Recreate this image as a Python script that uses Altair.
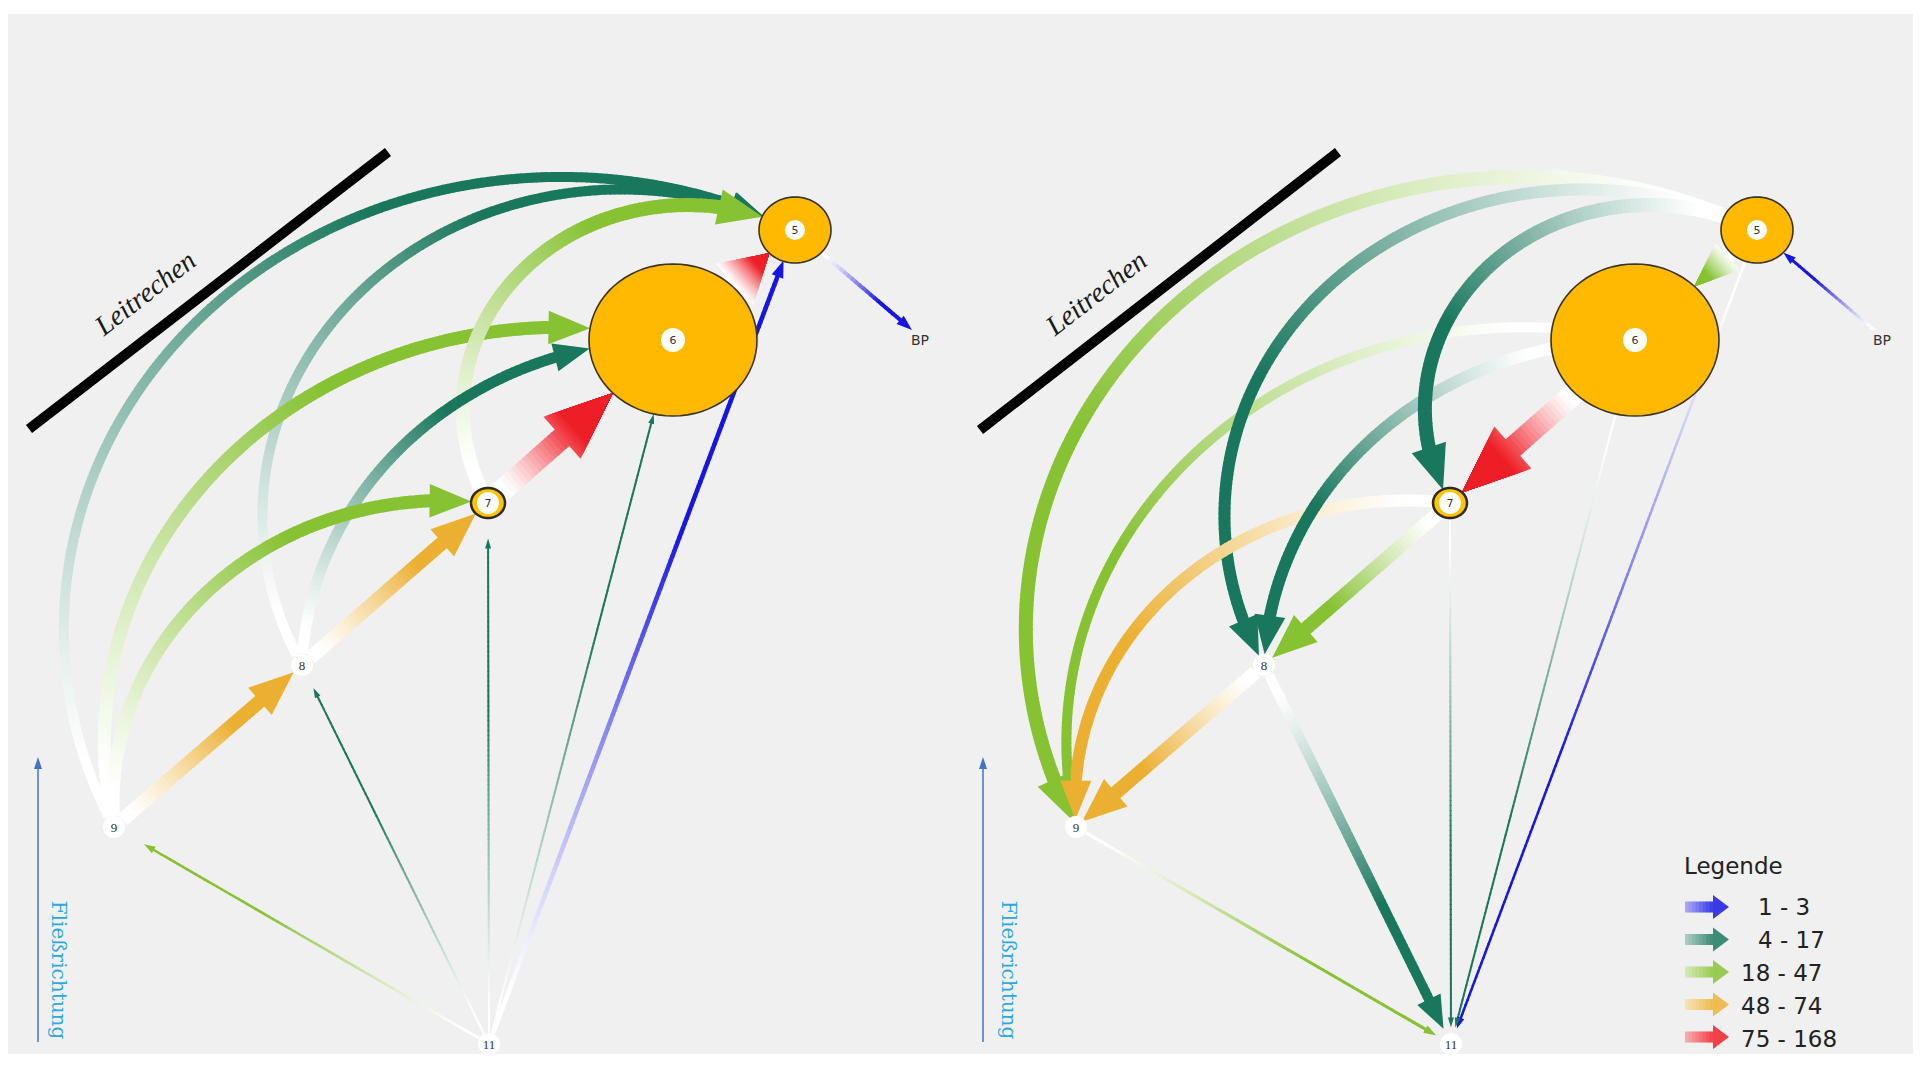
import math
import bisect
import altair as alt
import pandas as pd

# ------------------------------------------------------------------ data
NODE_IDS = ["5", "6", "7", "8", "9", "11", "BP"]
CLASS_LABELS = ["1 - 3", "4 - 17", "18 - 47", "48 - 74", "75 - 168"]
CLASS_COLORS = ["#1616e4", "#19775d", "#86c232", "#ebb031", "#ee1e26"]

# left panel (flows towards the rake)
LEFT_SRC = ["11", "11", "11", "11", "11", "9", "8", "9", "7", "8", "9", "9", "8", "7", "6", "5"]
LEFT_DST = ["9", "8", "7", "6", "5", "5", "5", "6", "5", "6", "7", "8", "7", "6", "5", "BP"]
LEFT_CLASS = [2, 1, 1, 1, 0, 1, 1, 2, 2, 1, 2, 3, 3, 4, 4, 0]

# right panel (flows away from the rake)
RIGHT_SRC = ["BP", "5", "6", "7", "9", "8", "5", "6", "5", "7", "6", "5", "7", "8", "6", "5"]
RIGHT_DST = ["5", "11", "11", "11", "11", "11", "9", "9", "8", "9", "8", "7", "8", "9", "7", "6"]
RIGHT_CLASS = [0, 0, 1, 1, 2, 1, 2, 2, 1, 3, 1, 1, 2, 3, 4, 2]

# ------------------------------------------------------------------ styles / layout (page pixels)
LEFT_WIDTH = [2.5, 2, 2, 2, 4.5, 10, 10, 13, 14, 11, 13, 14, 14, 22, 22, 4]
RIGHT_WIDTH = [3, 2.5, 2, 2, 3, 10, 14, 10, 12, 12, 12, 14, 14, 14, 22, 14]

NODE_POS = {"5": (795, 230), "6": (673, 340), "7": (488, 503), "8": (302, 665),
            "9": (114, 827), "11": (489, 1044), "BP": (912, 330)}
NODE_RAD = {"5": (36, 33), "6": (84, 76), "7": (17, 15), "8": (11, 11),
            "9": (11, 11), "11": (11, 11), "BP": (0, 0)}
PANEL_SHIFT = {"left": 0, "right": 962}
ARC_BEND = {frozenset(("9", "5")): 72, frozenset(("8", "5")): 73, frozenset(("9", "6")): 58,
            frozenset(("7", "5")): 73, frozenset(("8", "6")): 44, frozenset(("9", "7")): 51}
DEFAULT_GAP = {"8": 0, "9": -3, "11": 6}
TIP_GAP = {("left", "11", "9"): 24, ("left", "11", "8"): 15, ("left", "11", "7"): 21}
SX = 1.1  # horizontal stretch of the original drawing

W_CH, H_CH = 1905, 1046
XS = alt.Scale(domain=[8, 8 + W_CH], range=[0, W_CH], nice=False, zero=False)
YS = alt.Scale(domain=[8, 8 + H_CH], range=[0, H_CH], nice=False, zero=False)


def mix(hexcol, f):
    r, g, b = (int(hexcol[i:i + 2], 16) for i in (1, 3, 5))
    return "#%02x%02x%02x" % tuple(int(round(255 + (c - 255) * f)) for c in (r, g, b))


def fade(u):
    v = max(0.0, min(1.0, (u - 0.05) / 0.6))
    return v ** 1.2


def path_points(p, q, bend, n=1200):
    if not bend:
        return [(p[0] + (q[0] - p[0]) * i / n, p[1] + (q[1] - p[1]) * i / n) for i in range(n + 1)]
    a, b, flip = p, q, False
    if a[1] < b[1]:
        a, b, flip = q, p, True
    ax, ay = a[0] / SX, a[1]
    bx, by = b[0] / SX, b[1]
    dx, dy = bx - ax, by - ay
    L = math.hypot(dx, dy)
    ux, uy = dx / L, dy / L
    nx, ny = uy, -ux
    al = math.radians(bend)
    R = (L / 2) / math.sin(al)
    d = R * math.cos(al)
    mx, my = (ax + bx) / 2, (ay + by) / 2
    cx, cy = mx - nx * d, my - ny * d
    a0 = math.atan2(ay - cy, ax - cx)
    a1 = math.atan2(by - cy, bx - cx)
    da = (a1 - a0 + math.pi) % (2 * math.pi) - math.pi
    pts = [((cx + R * math.cos(a0 + da * i / n)) * SX, cy + R * math.sin(a0 + da * i / n))
           for i in range(n + 1)]
    if flip:
        pts.reverse()
    return pts


def inside(pt, c, r, extra):
    rx, ry = r[0] + extra, r[1] + extra
    if r[0] <= 0 or rx <= 0 or ry <= 0:
        return False
    return ((pt[0] - c[0]) / rx) ** 2 + ((pt[1] - c[1]) / ry) ** 2 < 1


def at(sub, cum, s):
    s = max(0.0, min(cum[-1], s))
    k = bisect.bisect_left(cum, s)
    if k <= 0:
        return sub[0]
    k = min(k, len(cum) - 1)
    s0, s1 = cum[k - 1], cum[k]
    t = 0 if s1 == s0 else (s - s0) / (s1 - s0)
    return (sub[k - 1][0] + (sub[k][0] - sub[k - 1][0]) * t,
            sub[k - 1][1] + (sub[k][1] - sub[k - 1][1]) * t)


def tri_path(aspect):
    return "M0,-1L%.3f,1L-%.3f,1Z" % (aspect, aspect)


shaft_rows, head_rows = [], []


def build_edge(panel, s, t, cls, w):
    sh = PANEL_SHIFT[panel]
    P = (NODE_POS[s][0] + sh, NODE_POS[s][1])
    Q = (NODE_POS[t][0] + sh, NODE_POS[t][1])
    bend = ARC_BEND.get(frozenset((s, t)), 0)
    pts = path_points(P, Q, bend)
    i0 = 0
    while i0 < len(pts) - 2 and inside(pts[i0], P, NODE_RAD[s], 0):
        i0 += 1
    gap = TIP_GAP.get((panel, s, t), DEFAULT_GAP.get(t, 0))
    i1 = i0 + 1
    while i1 < len(pts) - 1 and not inside(pts[i1], Q, NODE_RAD[t], gap):
        i1 += 1
    sub = pts[i0:i1 + 1]
    cum = [0.0]
    for k in range(1, len(sub)):
        cum.append(cum[-1] + math.hypot(sub[k][0] - sub[k - 1][0], sub[k][1] - sub[k - 1][1]))
    S = cum[-1]
    col = CLASS_COLORS[cls]
    Lh = min(2.9 * w + 4, 0.95 * S)
    Wh = 2.5 * w + 1
    s_end = S - Lh + 1
    m = max(2, int(math.ceil(s_end / 5)))
    for k in range(m):
        sa, sb = s_end * k / m, s_end * (k + 1) / m
        pa, pb = at(sub, cum, sa - 0.5), at(sub, cum, sb + 0.5)
        shaft_rows.append(dict(x=pa[0], y=pa[1], x2=pb[0], y2=pb[1], w=w,
                               col=mix(col, fade((sa + sb) / 2 / S))))
    tip = sub[-1]
    base = at(sub, cum, S - Lh)
    dv = (tip[0] - base[0], tip[1] - base[1])
    dl = math.hypot(*dv)
    dirv = (dv[0] / dl, dv[1] / dl)
    fb = fade((S - Lh) / S)
    K = 1 if fb > 0.995 else 24
    ang = math.degrees(math.atan2(dirv[0], -dirv[1])) % 360
    shp = tri_path(Wh / Lh)
    for k in range(K):
        frac = 1 - k / K
        Lk = Lh * frac
        f = 1.0 if K == 1 else fade((S - Lk + Lh / K * 0.5) / S)
        head_rows.append(dict(x=tip[0] - dirv[0] * Lk / 2, y=tip[1] - dirv[1] * Lk / 2,
                              size=Lk * Lk, ang=ang, shp=shp, col=mix(col, f)))


for s, t, c, w in zip(LEFT_SRC, LEFT_DST, LEFT_CLASS, LEFT_WIDTH):
    build_edge("left", s, t, c, w)
for s, t, c, w in zip(RIGHT_SRC, RIGHT_DST, RIGHT_CLASS, RIGHT_WIDTH):
    build_edge("right", s, t, c, w)

# legend arrows (same drawing style, horizontal)
LEG_X0, LEG_SHAFT, LEG_HEAD, LEG_Y0, LEG_DY = 1685, 28, 16, 907, 32.5
for i, col in enumerate(CLASS_COLORS):
    yy = LEG_Y0 + LEG_DY * i
    m = 8
    for k in range(m):
        xa = LEG_X0 + LEG_SHAFT * k / m
        xb = LEG_X0 + LEG_SHAFT * (k + 1) / m + 0.6
        shaft_rows.append(dict(x=xa, y=yy, x2=xb, y2=yy, w=11,
                               col=mix(col, 0.35 + 0.5 * (k + 0.5) / m)))
    head_rows.append(dict(x=LEG_X0 + LEG_SHAFT + LEG_HEAD / 2, y=yy, size=LEG_HEAD ** 2,
                          ang=90, shp=tri_path(24 / LEG_HEAD), col=mix(col, 0.85)))

shaft_df = pd.DataFrame(shaft_rows)
head_df = pd.DataFrame(head_rows)


def ex(f):
    return alt.X(f"{f}:Q", scale=XS, axis=None)


def ey(f):
    return alt.Y(f"{f}:Q", scale=YS, axis=None)


def ellipse_path(k, n=72):
    pts = ["%.4f,%.4f" % (math.cos(2 * math.pi * i / n), k * math.sin(2 * math.pi * i / n)) for i in range(n)]
    return "M" + "L".join(pts) + "Z"


# nodes
big_rows, ring_rows, disc_rows, lab_rows = [], [], [], []
for panel, sh in PANEL_SHIFT.items():
    for nid in NODE_IDS:
        x, y = NODE_POS[nid][0] + sh, NODE_POS[nid][1]
        rx, ry = NODE_RAD[nid]
        if nid in ("5", "6"):
            big_rows.append(dict(x=x, y=y, size=(2 * rx) ** 2, shp=ellipse_path(ry / rx)))
        if nid == "7":
            ring_rows.append(dict(x=x, y=y, size=(2 * rx) ** 2, shp=ellipse_path(ry / rx)))
        if nid != "BP":
            r = {"5": 10, "6": 12, "7": 11}.get(nid, 11)
            disc_rows.append(dict(x=x, y=y, size=(2 * r) ** 2))
            lab_rows.append(dict(x=x, y=y + 0.5, t=nid, serif=nid in ("8", "9", "11")))

big_df = pd.DataFrame(big_rows)
ring_df = pd.DataFrame(ring_rows)
disc_df = pd.DataFrame(disc_rows)
lab_df = pd.DataFrame(lab_rows)

bg = alt.Chart(pd.DataFrame({"a": [0]})).mark_rect(color="#f0f0f0").encode(
    x=alt.value(0), x2=alt.value(W_CH), y=alt.value(6), y2=alt.value(H_CH))

# rake lines and labels
rake_df = pd.DataFrame({"x": [29, 980], "y": [429, 430], "x2": [388, 1338], "y2": [152, 152]})
rake = alt.Chart(rake_df).mark_rule(color="#000000", strokeWidth=10, strokeCap="butt").encode(
    x=ex("x"), y=ey("y"), x2=alt.X2("x2"), y2=alt.Y2("y2"))
rake_txt = alt.Chart(pd.DataFrame({"x": [146, 1097], "y": [294, 294], "t": ["Leitrechen", "Leitrechen"]})).mark_text(
    font="Liberation Serif", fontStyle="italic", fontSize=28, angle=322.35, color="#1a1a1a",
    align="center", baseline="middle").encode(x=ex("x"), y=ey("y"), text="t:N")

# flow direction arrows
flow_df = pd.DataFrame({"x": [38, 983], "y": [1042, 1042], "x2": [38, 983], "y2": [768, 768]})
flow_line = alt.Chart(flow_df).mark_rule(color="#4472c4", strokeWidth=1.5).encode(
    x=ex("x"), y=ey("y"), x2=alt.X2("x2"), y2=alt.Y2("y2"))
flow_head = alt.Chart(pd.DataFrame({"x": [38, 983], "y": [763, 763]})).mark_point(
    shape=tri_path(8 / 12), size=144, filled=True, color="#4472c4", opacity=1, strokeWidth=0).encode(
    x=ex("x"), y=ey("y"))
flow_txt = alt.Chart(pd.DataFrame({"x": [58, 1008], "y": [970, 970], "t": ["Fließrichtung", "Fließrichtung"]})).mark_text(
    font="DejaVu Serif", fontSize=20, angle=90, color="#2aaae0", align="center", baseline="middle").encode(
    x=ex("x"), y=ey("y"), text="t:N")

shafts = alt.Chart(shaft_df).mark_rule(strokeCap="butt").encode(
    x=ex("x"), y=ey("y"), x2=alt.X2("x2"), y2=alt.Y2("y2"),
    color=alt.Color("col:N", scale=None),
    strokeWidth=alt.StrokeWidth("w:Q", scale=None))

heads = alt.Chart(head_df).mark_point(filled=True, opacity=1, strokeWidth=0).encode(
    x=ex("x"), y=ey("y"),
    shape=alt.Shape("shp:N", scale=None),
    size=alt.Size("size:Q", scale=None),
    angle=alt.Angle("ang:Q", scale=None),
    color=alt.Color("col:N", scale=None))

big_nodes = alt.Chart(big_df).mark_point(fill="#ffb900", fillOpacity=1, opacity=1, stroke="#3a3326",
                                         strokeWidth=1.6).encode(
    x=ex("x"), y=ey("y"), shape=alt.Shape("shp:N", scale=None), size=alt.Size("size:Q", scale=None))
ring_nodes = alt.Chart(ring_df).mark_point(fill="#ffc400", fillOpacity=1, opacity=1, stroke="#2e2a20",
                                           strokeWidth=2.5).encode(
    x=ex("x"), y=ey("y"), shape=alt.Shape("shp:N", scale=None), size=alt.Size("size:Q", scale=None))
discs = alt.Chart(disc_df).mark_point(shape="circle", fill="#ffffff", fillOpacity=1, opacity=1,
                                      strokeWidth=0).encode(
    x=ex("x"), y=ey("y"), size=alt.Size("size:Q", scale=None))
labels_sans = alt.Chart(lab_df[~lab_df.serif]).mark_text(
    font="DejaVu Sans", fontSize=11, color="#333333", align="center", baseline="middle").encode(
    x=ex("x"), y=ey("y"), text="t:N")
labels_serif = alt.Chart(lab_df[lab_df.serif]).mark_text(
    font="Liberation Serif", fontSize=13, color="#333333", align="center", baseline="middle").encode(
    x=ex("x"), y=ey("y"), text="t:N")
bp_txt = alt.Chart(pd.DataFrame({"x": [920, 1882], "y": [341, 341], "t": ["BP", "BP"]})).mark_text(
    font="DejaVu Sans", fontSize=14, color="#333333", align="center", baseline="middle").encode(
    x=ex("x"), y=ey("y"), text="t:N")

# legend
leg_title = alt.Chart(pd.DataFrame({"x": [1684], "y": [867], "t": ["Legende"]})).mark_text(
    font="DejaVu Sans", fontSize=23, color="#222222", align="left", baseline="middle").encode(
    x=ex("x"), y=ey("y"), text="t:N")
leg_df = pd.DataFrame({
    "t": CLASS_LABELS,
    "x": [1741 + (17 if len(lab.split(" - ")[0]) == 1 else 0) for lab in CLASS_LABELS],
    "y": [LEG_Y0 + 1 + 33 * i for i in range(len(CLASS_LABELS))],
})
leg_txt = alt.Chart(leg_df).mark_text(
    font="DejaVu Sans", fontSize=23, color="#222222", align="left", baseline="middle").encode(
    x=ex("x"), y=ey("y"), text="t:N")

chart = alt.layer(
    bg, rake, rake_txt, flow_line, flow_head, flow_txt, shafts, heads,
    big_nodes, ring_nodes, discs, labels_sans, labels_serif, bp_txt, leg_title, leg_txt
).properties(
    width=W_CH, height=H_CH, padding=0, autosize=alt.AutoSizeParams(type="none"), background="#ffffff"
).configure_view(stroke=None)

chart.save("out.html", embed_options={"renderer": "svg", "actions": False})
